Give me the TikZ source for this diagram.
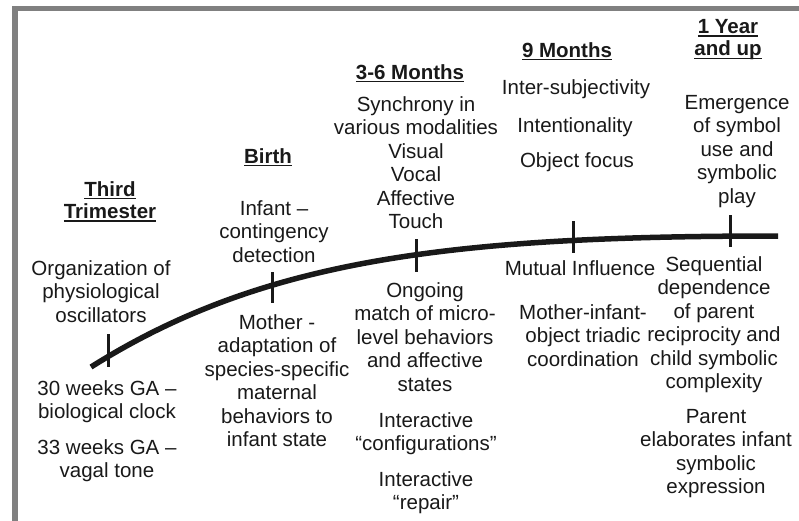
\documentclass[tikz,border=0pt]{standalone}
\usepackage{fontspec}
\setmainfont{Liberation Sans}
\newcommand\hdul[1]{\setbox0\hbox{\bfseries #1}\leavevmode\rlap{\rule[-3.2pt]{\wd0}{1.4pt}}\box0}
\tikzset{
 txt/.style={font=\fontsize{20.5}{23.5}\selectfont, align=center, inner sep=0pt, anchor=north, text=black!90},
 hd/.style={txt, font=\fontsize{20.5}{22.5}\selectfont\bfseries},
 framebar/.style={fill=black!50, draw=none},
 curve/.style={line width=5.5pt, draw=black!90},
 tickmark/.style={line width=3pt, draw=black!90},
}
\begin{document}
\begin{tikzpicture}[x=1pt,y=-1pt]
\useasboundingbox (0,0) rectangle (799,521);
\fill[white] (0,0) rectangle (799,521);
% frame
\fill[framebar] (12,6) rectangle (17.5,521);
\fill[framebar] (12,6) rectangle (799,11.5);
% timeline
\coordinate (cs) at (91,367);
\coordinate (ce) at (778,236);
\draw[curve] (cs) .. controls (261,260) and (448,236) .. (ce);
\coordinate (t1a) at (108,334); \coordinate (t1b) at (108,367);
\coordinate (t2a) at (272,272); \coordinate (t2b) at (272,303);
\coordinate (t3a) at (416,239); \coordinate (t3b) at (416,272);
\coordinate (t4a) at (573,221); \coordinate (t4b) at (573,253);
\coordinate (t5a) at (730,215); \coordinate (t5b) at (730,247);
\draw[tickmark] (t1a) -- (t1b);
\draw[tickmark] (t2a) -- (t2b);
\draw[tickmark] (t3a) -- (t3b);
\draw[tickmark] (t4a) -- (t4b);
\draw[tickmark] (t5a) -- (t5b);
% Third trimester
\node[hd] (tth) at (110,181) {\hdul{Third}\\\hdul{Trimester}};
\node[txt] (tt1) at (101,260) {Organization of\\physiological\\oscillators};
\node[txt] (tt2) at (107,380) {30 weeks GA –\\biological clock};
\node[txt] (tt3) at (107,439) {33 weeks GA –\\vagal tone};
% Birth
\node[hd] (bh) at (268,148) {\hdul{Birth}};
\node[txt] (b1) at (274,200) {Infant –\\contingency\\detection};
\node[txt] (b2) at (277,314) {Mother -\\adaptation of\\species-specific\\maternal\\behaviors to\\infant state};
% 3-6 months
\node[hd] (mh) at (410,64) {\hdul{3-6 Months}};
\node[txt] (m1) at (416,96) {Synchrony in\\various modalities\\Visual\\Vocal\\Affective\\Touch};
\node[txt] (m2) at (425,282) {Ongoing\\match of micro-\\level behaviors\\and affective\\states};
\node[txt] (m3) at (426,412) {Interactive\\“configurations”};
\node[txt] (m4) at (426,471) {Interactive\\“repair”};
% 9 months
\node[hd] (nh) at (567,42) {\hdul{9 Months}};
\node[txt] (n1) at (576,79) {Inter-subjectivity};
\node[txt] (n2) at (575,117) {Intentionality};
\node[txt] (n3) at (577,152) {Object focus};
\node[txt] (n4) at (580,260) {Mutual Influence};
\node[txt] (n5) at (583,304) {Mother-infant-\\object triadic\\coordination};
% 1 year
\node[hd] (yh) at (728,19) {\hdul{1 Year}\\\hdul{and up}};
\node[txt] (y1) at (737,95) {Emergence\\of symbol\\use and\\symbolic\\play};
\node[txt] (y2) at (714,256) {Sequential\\dependence\\of parent\\reciprocity and\\child symbolic\\complexity};
\node[txt] (y3) at (716,409) {Parent\\elaborates infant\\symbolic\\expression};
\end{tikzpicture}
\end{document}
